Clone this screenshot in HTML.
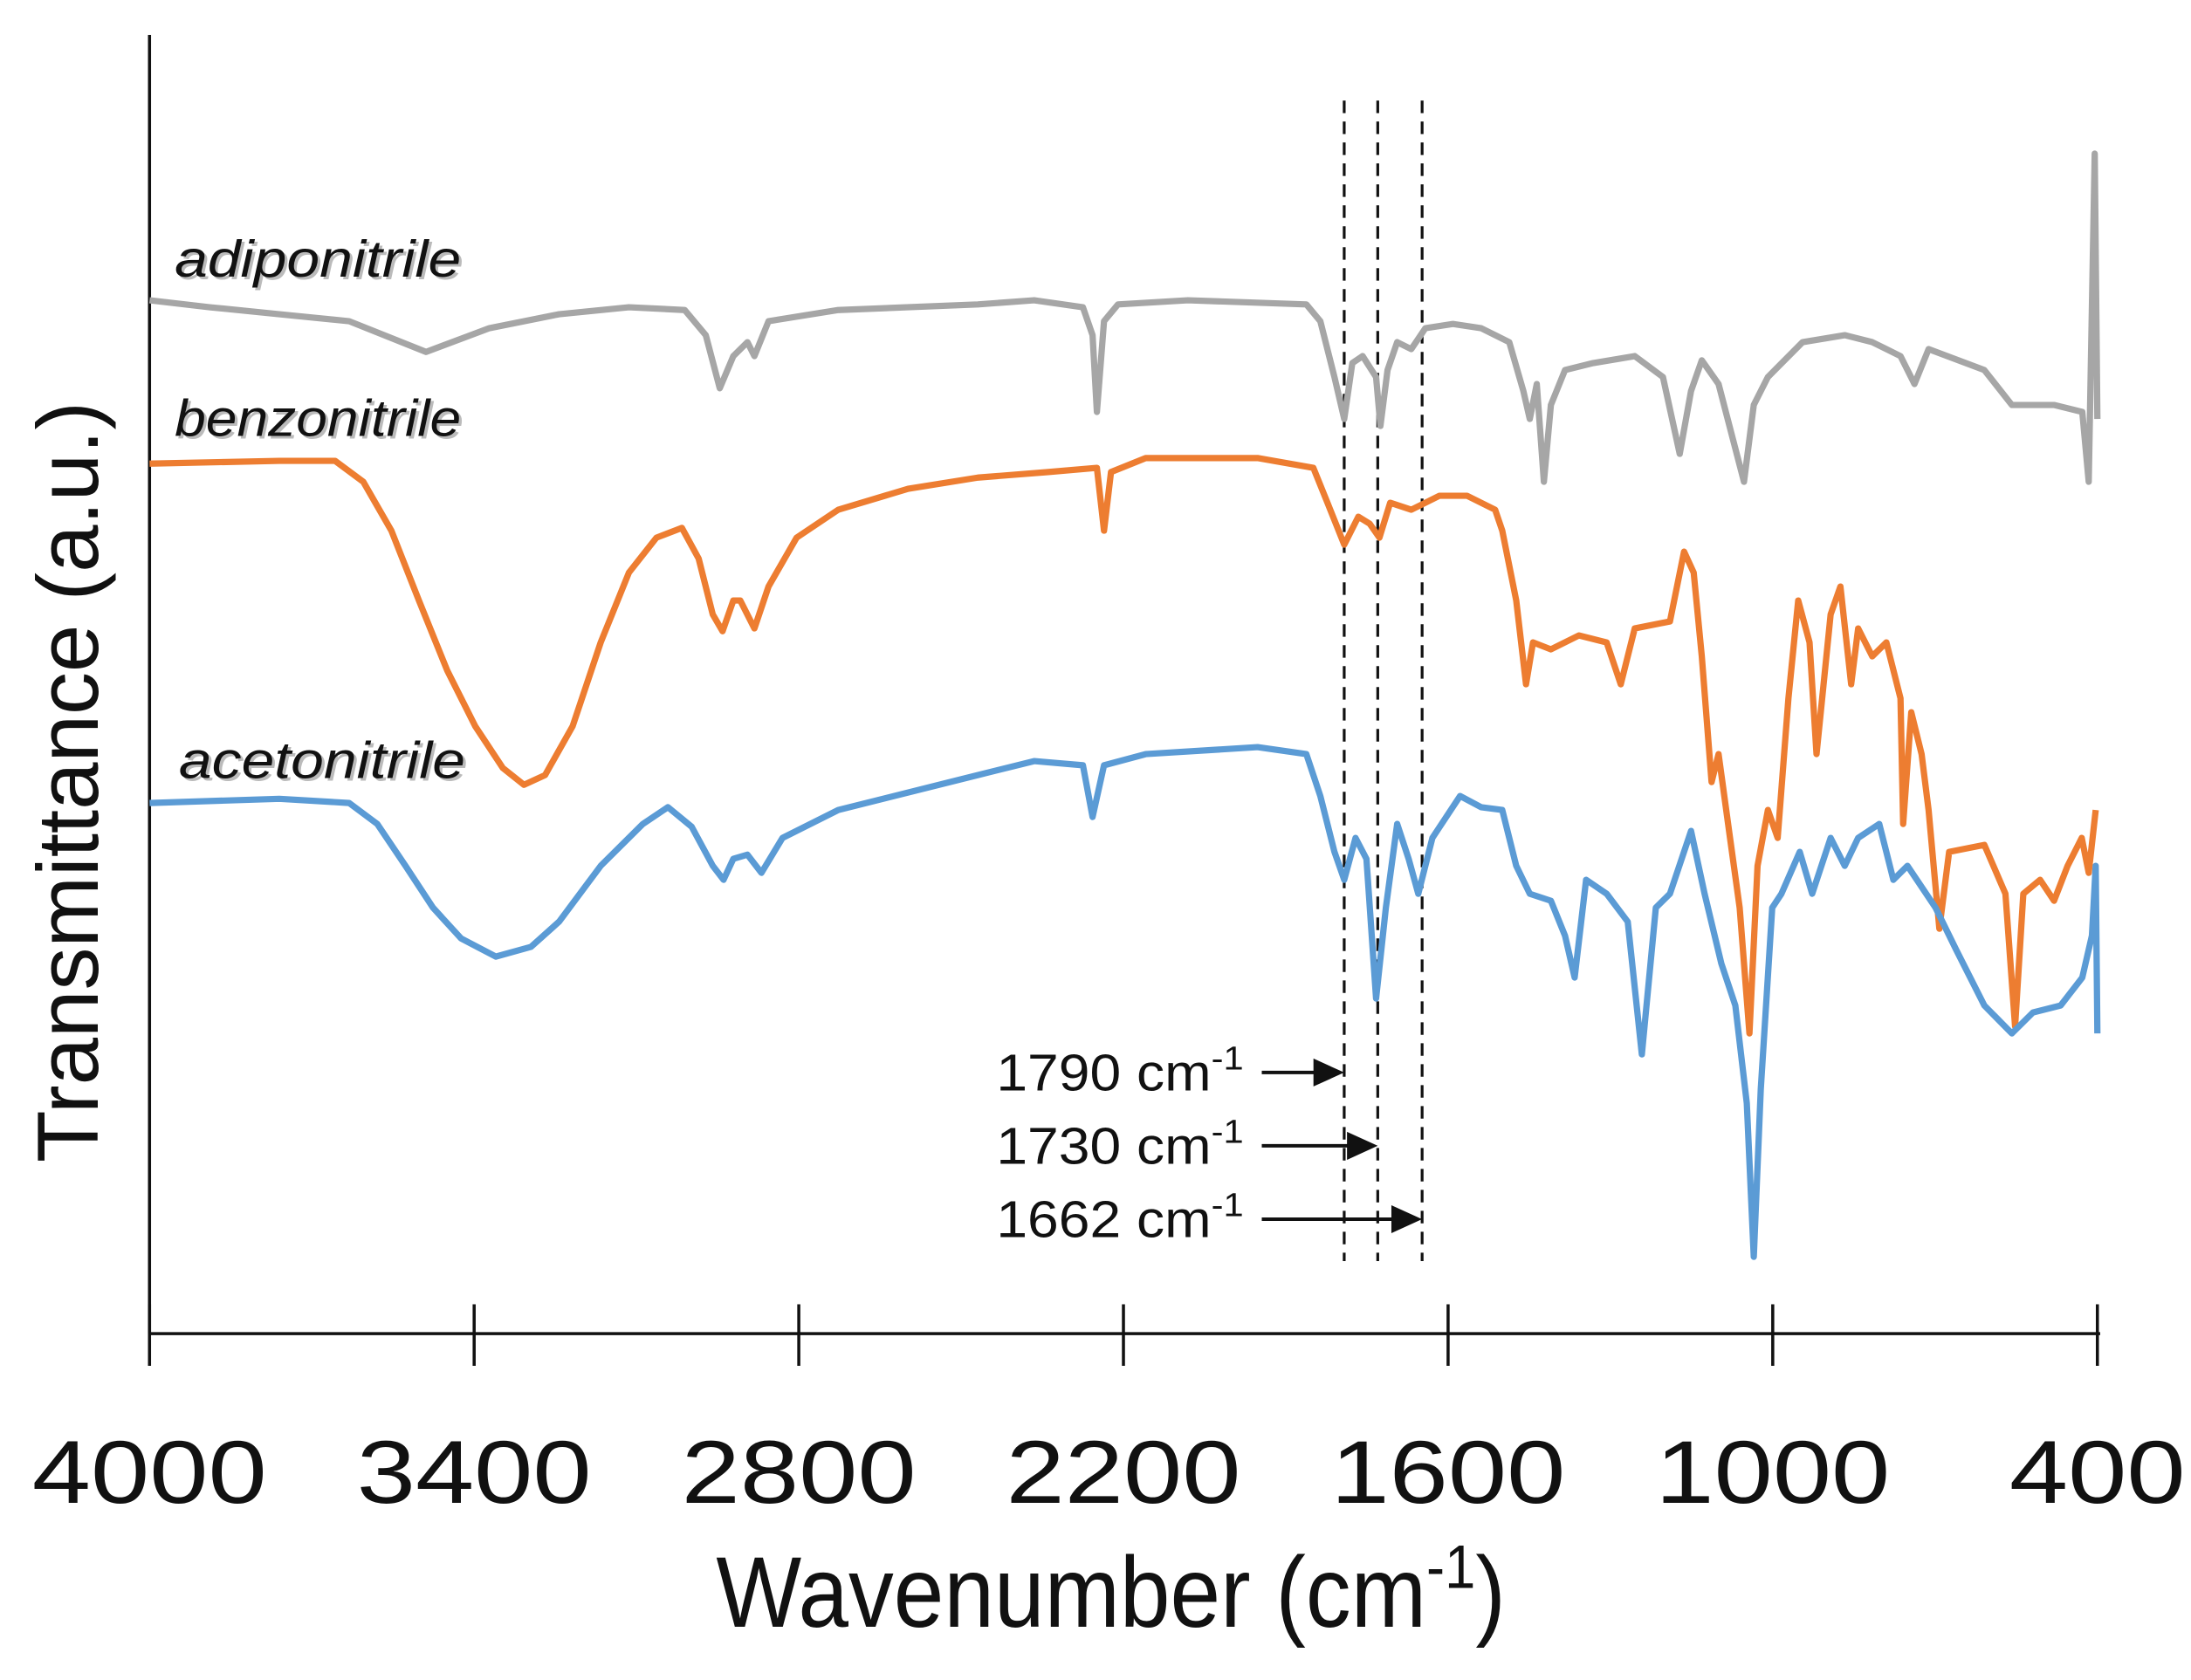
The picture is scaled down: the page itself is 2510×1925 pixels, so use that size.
<!DOCTYPE html>
<html><head><meta charset="utf-8"><style>
html,body{margin:0;padding:0;background:#fff;}
svg{display:block;}
text{font-family:"Liberation Sans",sans-serif;fill:#111;}
</style></head><body>
<svg id="chart" width="2510" height="1925" viewBox="0 0 1568 1203" preserveAspectRatio="none" xmlns="http://www.w3.org/2000/svg">
<g id="plot"></g>
</svg>
<script>
const xTicks = [4000, 3400, 2800, 2200, 1600, 1000, 400];
const markerWn = [1792, 1730, 1648];
const markerLabels = ["1790", "1730", "1662"];
const adipoWn = [4000,3889,3760,3631,3489,3372,3243,3114,3011,2972,2946,2921,2895,2882,2856,2727,2469,2365,2275,2257,2249,2236,2210,2081,1862,1836,1810,1792,1777,1758,1733,1725,1712,1694,1668,1642,1591,1539,1487,1461,1449,1436,1423,1410,1384,1332,1255,1203,1172,1151,1131,1100,1053,1035,1009,945,867,816,764,738,712,609,558,480,428,416,405,400];
const adipoT = [740,735,730,725,703,720,730,735,733,715,677,700,710,700,725,733,737,740,735,715,660,725,737,740,737,725,685,655,695,700,685,650,690,710,705,720,723,720,710,675,655,680,610,665,690,695,700,685,630,675,697,680,610,665,685,710,715,710,700,680,705,690,665,665,660,610,845,655];
const benzoWn = [4000,3760,3657,3605,3553,3502,3450,3398,3347,3308,3269,3218,3166,3114,3063,3016,2985,2959,2941,2921,2908,2882,2856,2804,2727,2598,2469,2339,2249,2236,2223,2159,1952,1849,1823,1792,1766,1745,1727,1707,1668,1642,1616,1565,1513,1500,1474,1456,1443,1410,1358,1307,1281,1255,1190,1164,1146,1131,1113,1100,1079,1061,1043,1028,1009,991,971,953,932,919,893,875,855,842,816,790,764,759,744,725,712,692,674,609,570,552,537,506,480,455,429,416,403];
const benzoT = [623,625,625,610,575,525,475,435,405,393,400,435,495,545,570,577,555,515,503,525,525,505,535,570,590,605,613,617,620,575,617,627,627,620,595,565,585,580,570,595,590,595,600,600,590,575,525,465,495,490,500,495,465,505,510,560,545,485,395,415,355,305,215,335,375,355,455,525,495,415,515,535,465,505,485,495,455,365,445,415,375,290,345,350,315,220,315,325,310,335,355,330,375];
const acetoWn = [4000,3760,3631,3579,3527,3476,3424,3360,3295,3243,3166,3088,3042,2998,2959,2939,2921,2895,2869,2830,2727,2469,2365,2275,2257,2236,2159,1952,1862,1836,1810,1792,1771,1751,1733,1715,1694,1673,1655,1629,1578,1539,1500,1474,1449,1410,1384,1366,1345,1307,1268,1242,1216,1190,1151,1126,1095,1069,1048,1035,1022,1001,984,950,927,893,867,842,803,777,751,699,661,609,558,519,468,428,410,403,400];
const acetoT = [380,383,380,365,335,305,283,270,277,295,335,365,377,363,335,325,340,343,330,355,375,400,410,407,370,407,415,420,415,385,345,325,355,340,240,305,365,340,315,355,385,377,375,335,315,310,285,255,325,315,295,200,305,315,360,315,265,235,165,55,175,305,315,345,315,355,335,355,365,325,335,305,275,235,215,230,235,255,285,335,215];

const NS = "http://www.w3.org/2000/svg";
const g = document.getElementById('plot');
const X0 = 107, X1 = 1501, AXY = 955;
function xs(w){ return X0 + (4000 - w) * (X1 - X0) / 3600; }
function ys(v){ return AXY - v; }
function mk(tag, attrs){ const e = document.createElementNS(NS, tag); for (const k in attrs) e.setAttribute(k, attrs[k]); g.appendChild(e); return e; }

let e = mk('line', {x1:X0, y1:25, x2:X0, y2:AXY, stroke:'#111', 'stroke-width':2.2});


e = mk('line', {x1:X0, y1:AXY, x2:X1+2, y2:AXY, stroke:'#111', 'stroke-width':2.2});


xTicks.forEach(t => {
  const x = xs(t);
  const tk = mk('line', {x1:x, y1:934, x2:x, y2:978, stroke:'#111', 'stroke-width':2.2});
  
  
  const s = String(t);
  const lb = mk('text', {x:x, y:1076, 'text-anchor':'middle', 'font-size':64, textLength:s.length * 42, lengthAdjust:'spacingAndGlyphs'});
  lb.textContent = s;
  
  
});
e = mk('text', {x:795, y:1165, 'text-anchor':'middle', 'font-size':72, textLength:565, lengthAdjust:'spacingAndGlyphs'});
e.innerHTML = 'Wavenumber (cm<tspan font-size="44" dy="-28">-1</tspan><tspan dy="28">)</tspan>';


e = mk('text', {x:0, y:0, 'text-anchor':'middle', 'font-size':62, textLength:545, lengthAdjust:'spacingAndGlyphs', transform:'translate(70,560) rotate(-90)'});
e.textContent = 'Transmittance (a.u.)';



markerWn.forEach((w, i) => {
  const x = xs(w);
  const dl = mk('line', {x1:x, y1:72, x2:x, y2:903, stroke:'#111', 'stroke-width':2, 'stroke-dasharray':'9,6'});
  
  
  const ay = 768 + i * 52.5;
  const ar = mk('line', {x1:903, y1:ay, x2:x - 18, y2:ay, stroke:'#111', 'stroke-width':2.5});
  
  
  const hd = mk('polygon', {points:`${x},${ay} ${x-22},${ay-10} ${x-22},${ay+10}`, fill:'#111'});
  
  
  const lb = mk('text', {x:713, y:ay + 13, 'font-size':37, textLength:177, lengthAdjust:'spacingAndGlyphs'});
  lb.innerHTML = markerLabels[i] + ' cm<tspan font-size="24" dy="-15">-1</tspan>';
  
  
});

function series(wn, t, color, name){
  const d = wn.map((w, i) => (i ? 'L' : 'M') + xs(w).toFixed(1) + ' ' + ys(t[i]).toFixed(1)).join(' ');
  const p = mk('path', {d:d, fill:'none', stroke:color, 'stroke-width':4.5, 'stroke-linejoin':'round'});
  
  
}
series(adipoWn, adipoT, '#a6a6a6', 'adiponitrile-spectrum');
series(benzoWn, benzoT, '#ed7d31', 'benzonitrile-spectrum');
series(acetoWn, acetoT, '#5b9bd5', 'acetonitrile-spectrum');

[['adiponitrile',125,198,'adiponitrile-label'],['benzonitrile',125,312,'benzonitrile-label'],['acetonitrile',128,557,'acetonitrile-label']].forEach(a => {
  const sh = mk('text', {x:a[1]+2, y:a[2]+2, 'font-size':37, 'font-style':'italic', style:'fill:#bbb', textLength:205, lengthAdjust:'spacingAndGlyphs'});
  sh.textContent = a[0];
  
  
  const t = mk('text', {x:a[1], y:a[2], 'font-size':37, 'font-style':'italic', textLength:205, lengthAdjust:'spacingAndGlyphs'});
  t.textContent = a[0];
  
  
});
</script>
</body></html>
